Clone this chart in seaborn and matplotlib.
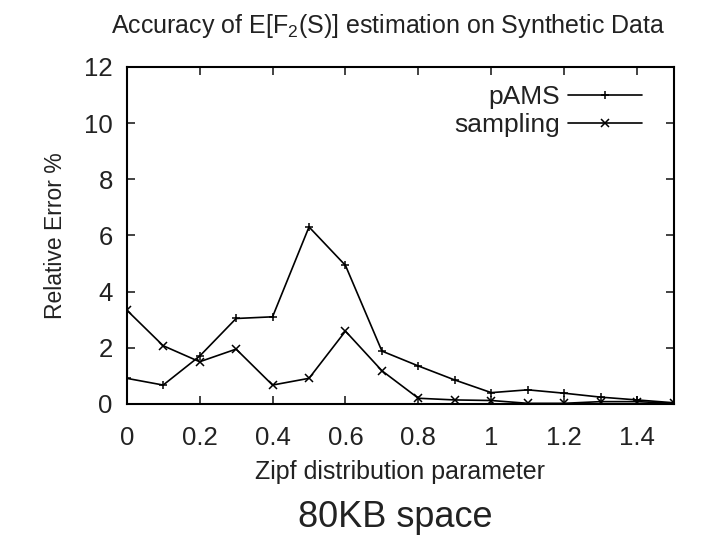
import numpy as np
import pandas as pd
import matplotlib
matplotlib.use("Agg")
import matplotlib.pyplot as plt
import seaborn as sns

# values
zipf_param = [0.0, 0.1, 0.2, 0.3, 0.4, 0.5, 0.6, 0.7, 0.8, 0.9, 1.0, 1.1, 1.2, 1.3, 1.4, 1.5]
pams_error = [0.91, 0.67, 1.70, 3.04, 3.10, 6.30, 4.93, 1.88, 1.35, 0.85, 0.40, 0.50, 0.38, 0.24, 0.14, 0.04]
sampling_error = [3.34, 2.07, 1.50, 1.95, 0.67, 0.91, 2.59, 1.18, 0.20, 0.14, 0.12, 0.02, 0.02, 0.08, 0.08, 0.02]

x_ticks = [0, 0.2, 0.4, 0.6, 0.8, 1, 1.2, 1.4]
x_tick_labels = ["0", "0.2", "0.4", "0.6", "0.8", "1", "1.2", "1.4"]
y_ticks = [0, 2, 4, 6, 8, 10, 12]

df = pd.DataFrame({
    "zipf": zipf_param * 2,
    "error": pams_error + sampling_error,
    "method": ["pAMS"] * len(zipf_param) + ["sampling"] * len(zipf_param),
})

sns.set_theme(style="ticks")
plt.rcParams["font.family"] = ["Liberation Sans", "DejaVu Sans"]
plt.rcParams["text.color"] = "#222222"
plt.rcParams["axes.labelcolor"] = "#222222"
plt.rcParams["xtick.color"] = "#222222"
plt.rcParams["ytick.color"] = "#222222"
plt.rcParams["mathtext.fontset"] = "custom"
plt.rcParams["mathtext.rm"] = "Liberation Sans"

fig = plt.figure(figsize=(7.12, 5.48), dpi=100)
ax = fig.add_axes([0.178, 0.263, 0.768, 0.615])

sns.lineplot(data=df, x="zipf", y="error", hue="method", style="method",
             markers={"pAMS": "+", "sampling": "x"}, dashes=False,
             palette={"pAMS": "black", "sampling": "black"},
             linewidth=1.2, markersize=6, markeredgewidth=1.1,
             markeredgecolor="black", ax=ax)

ax.set_xlim(0, 1.5)
ax.set_ylim(0, 12)
ax.set_xticks(x_ticks)
ax.set_xticklabels(x_tick_labels)
ax.set_yticks(y_ticks)
ax.tick_params(direction="in", top=True, right=True, length=6, width=1.2,
               labelsize=18.5, pad=10)
ax.tick_params(axis="x", pad=16)
for s in ax.spines.values():
    s.set_linewidth(1.5)
    s.set_color("black")

ax.set_xlabel("Zipf distribution parameter", fontsize=18, labelpad=7)
ax.set_ylabel("Relative Error %", fontsize=16.5, labelpad=12)
fig.text(0.545, 0.953, "Accuracy of E[F$_2$(S)] estimation on Synthetic Data",
         ha="center", va="center", fontsize=18)
fig.text(0.555, 0.056, "80KB space", ha="center", va="center", fontsize=26)

leg = ax.legend(loc="upper right", frameon=False, markerfirst=False,
                fontsize=19, handlelength=2.8, borderaxespad=0.3,
                labelspacing=0.15, handletextpad=0.3,
                bbox_to_anchor=(0.976, 1.0))
leg.set_title(None)

fig.savefig("out.png", dpi=100)
